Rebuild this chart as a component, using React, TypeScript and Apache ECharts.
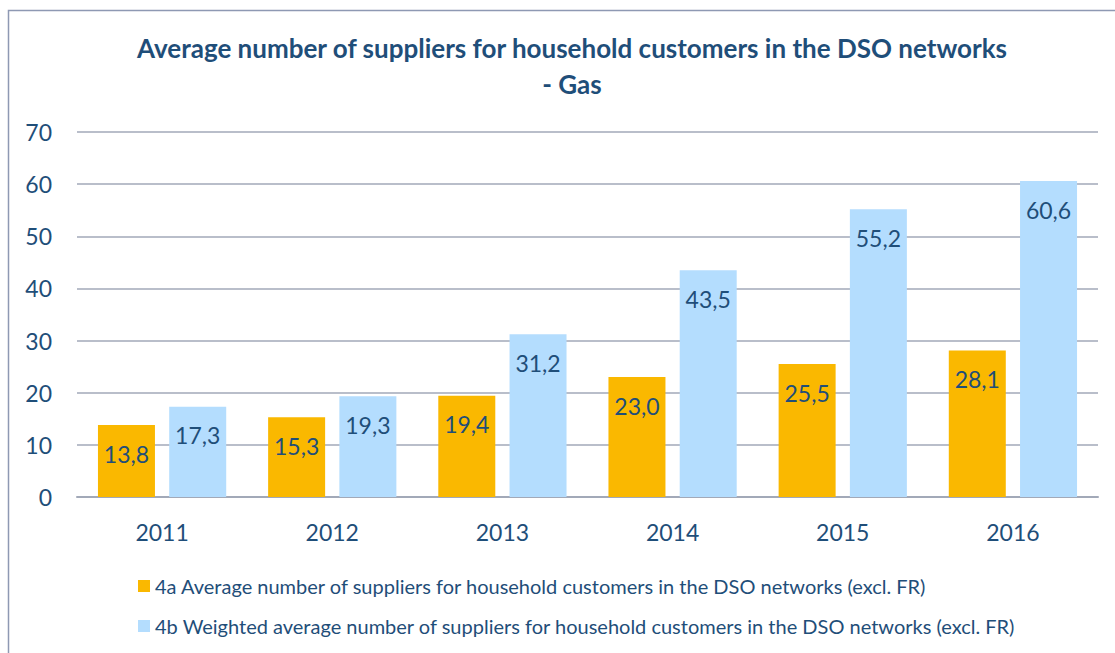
import React, { useEffect, useRef } from "react";
import * as echarts from "echarts";

const categories = ["2011", "2012", "2013", "2014", "2015", "2016"];
const seriesA = [13.8, 15.3, 19.4, 23.0, 25.5, 28.1];
const seriesB = [17.3, 19.3, 31.2, 43.5, 55.2, 60.6];
const nameA = "4a Average number of suppliers for household customers in the DSO networks (excl. FR)";
const nameB = "4b Weighted average number of suppliers for household customers in the DSO networks (excl. FR)";
const titleText = "Average number of suppliers for household customers in the DSO networks\n- Gas";

const TEXT = "#1F4E79";
const FONT = "Lato";

export default function App() {
  const ref = useRef<HTMLDivElement>(null);
  useEffect(() => {
    if (!ref.current) return;
    const chart = echarts.init(ref.current, null, { renderer: "svg" });
    const fmt = (p: any) => Number(p.value).toFixed(1).replace(".", ",");
    const label = {
      show: true,
      position: "insideTop",
      distance: 17,
      color: TEXT,
      fontSize: 23,
      fontFamily: FONT,
      formatter: fmt,
    };
    chart.setOption({
      animation: false,
      textStyle: { fontFamily: FONT },
      title: {
        text: titleText,
        left: 567,
        textAlign: "center",
        top: 25,
        textStyle: {
          color: TEXT,
          fontSize: 26,
          fontWeight: "bold",
          fontFamily: FONT,
          lineHeight: 36,
        },
      },
      graphic: [
        {
          type: "rect",
          shape: { x: 8.5, y: 10.5, width: 1200, height: 700 },
          style: { fill: "none", stroke: "#8E99B3", lineWidth: 1.5 },
          silent: true,
        },
      ],
      legend: {
        orient: "vertical",
        left: 133,
        top: 571,
        itemGap: 20,
        itemWidth: 12,
        itemHeight: 12,
        icon: "rect",
        textStyle: { color: TEXT, fontSize: 20, fontFamily: FONT },
        data: [nameA, nameB],
      },
      grid: { left: 77, right: 17, top: 132, bottom: 156, containLabel: false },
      xAxis: {
        type: "category",
        data: categories,
        axisLine: { lineStyle: { color: "#A2A9B8", width: 2 } },
        axisTick: { show: false },
        axisLabel: { color: TEXT, fontSize: 23, fontFamily: FONT, margin: 23 },
      },
      yAxis: {
        type: "value",
        min: 0,
        max: 70,
        interval: 10,
        axisLine: { show: false },
        axisTick: { show: false },
        splitLine: { lineStyle: { color: "#A2A9B8", width: 1.5 } },
        axisLabel: { color: TEXT, fontSize: 23, fontFamily: FONT, margin: 25 },
      },
      series: [
        {
          name: nameA,
          type: "bar",
          data: seriesA,
          barWidth: 57,
          barGap: "25%",
          itemStyle: { color: "#FAB800" },
          label,
        },
        {
          name: nameB,
          type: "bar",
          data: seriesB,
          barWidth: 57,
          itemStyle: { color: "#B4DDFE" },
          label,
        },
      ],
    });
    return () => chart.dispose();
  }, []);
  return (
    <div
      ref={ref}
      style={{ position: "fixed", left: 0, top: 0, width: 1115, height: 653, background: "#fff" }}
    />
  );
}
